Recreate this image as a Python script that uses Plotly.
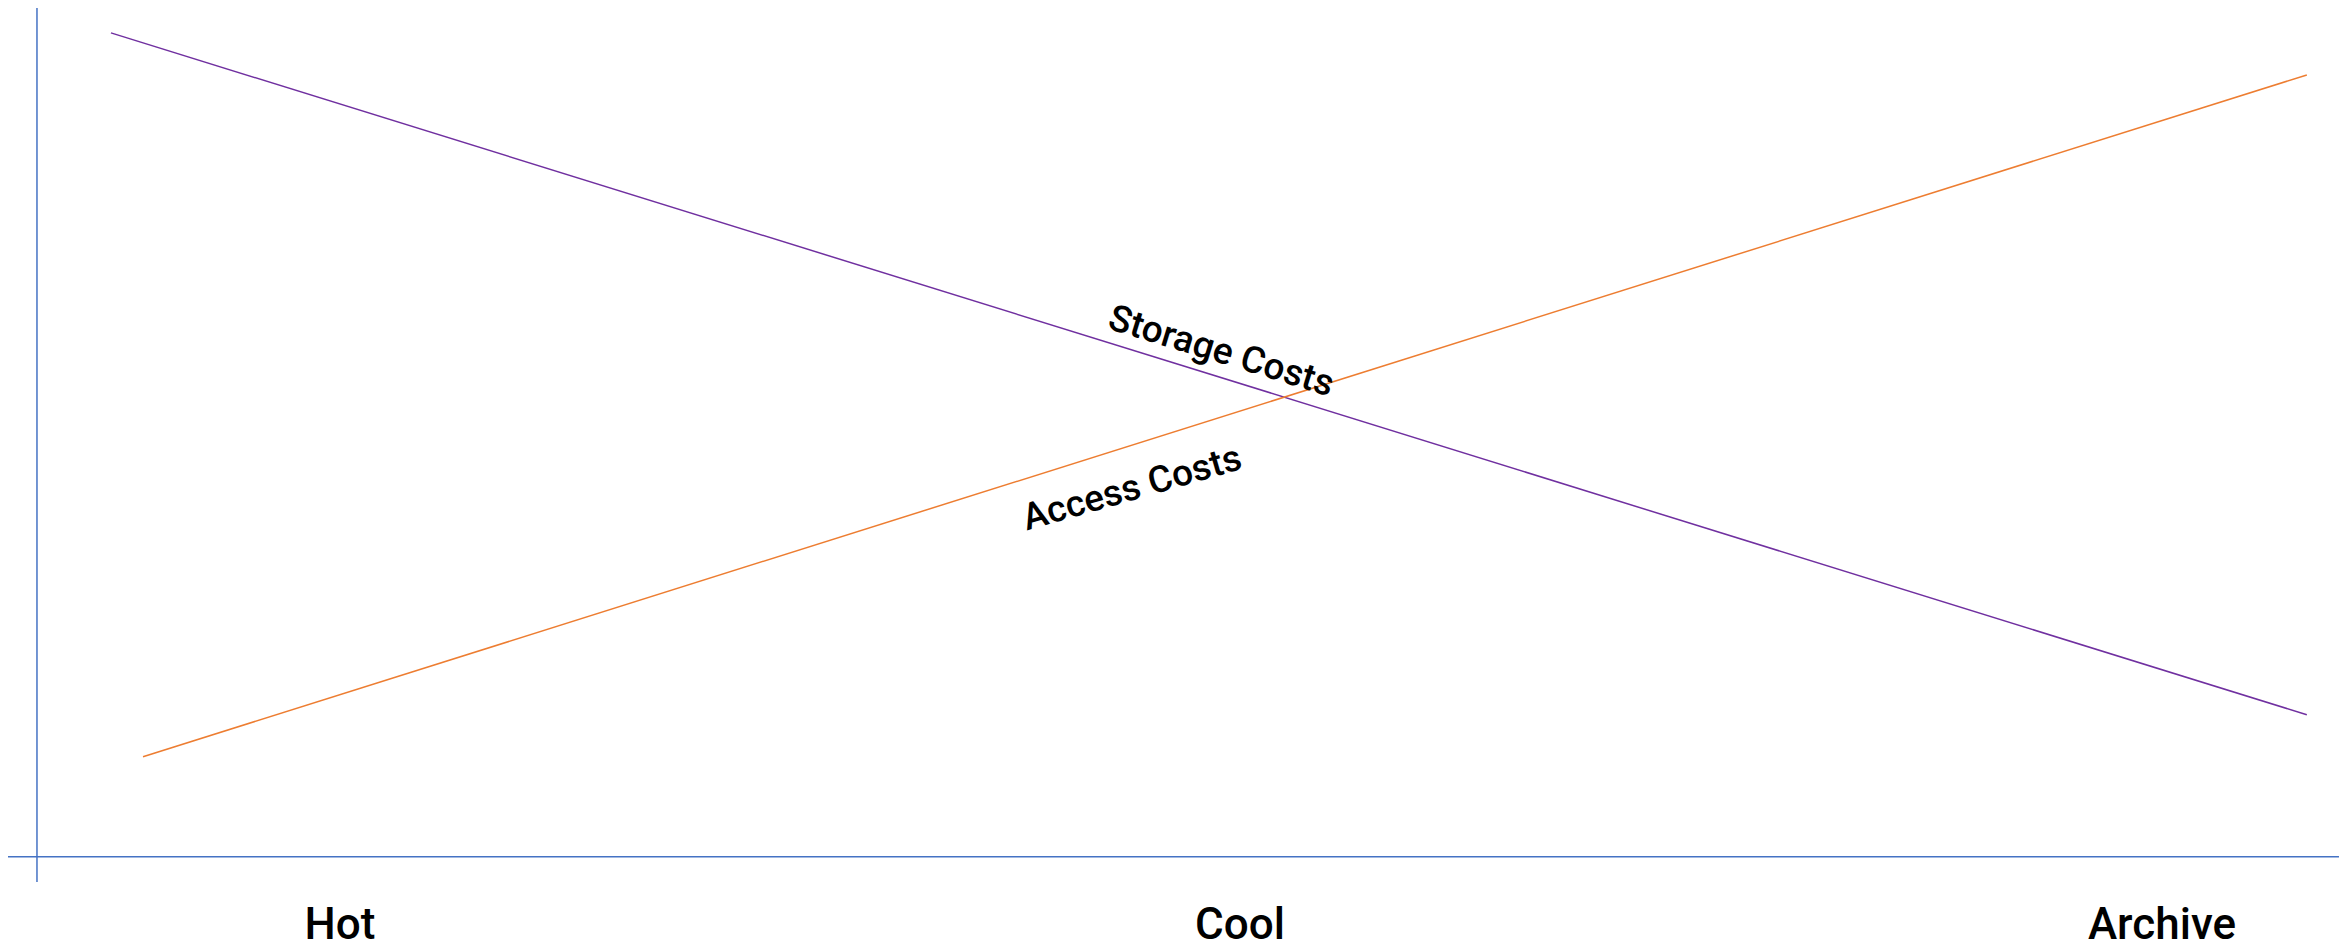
import plotly.graph_objects as go

# Data
tiers = ["Hot", "Cool", "Archive"]
tier_pos = [0.0, 0.988, 2.0]

storage_x = [-0.2514, 2.159]
storage_y = [1.0, 0.1725]
access_x = [-0.2162, 2.159]
access_y = [0.1215, 0.949]

PURPLE = "#7030A0"
ORANGE = "#ED7D31"
AXIS = "#4472C4"
FONT = "Roboto"

fig = go.Figure()
fig.add_trace(go.Scatter(x=storage_x, y=storage_y, mode="lines",
                         line=dict(color=PURPLE, width=1.5), name="Storage Costs",
                         hoverinfo="skip"))
fig.add_trace(go.Scatter(x=access_x, y=access_y, mode="lines",
                         line=dict(color=ORANGE, width=1.5), name="Access Costs",
                         hoverinfo="skip"))

# axis lines (cross-style)
fig.add_shape(type="line", x0=-0.3326, x1=-0.3326, y0=-0.0377, y1=1.04,
              line=dict(color=AXIS, width=1.5), layer="below")
fig.add_shape(type="line", x0=-0.37, x1=2.1943, y0=0, y1=0,
              line=dict(color=AXIS, width=1.5), layer="below")

fig.add_annotation(x=0.968, y=0.615, text="Storage Costs", showarrow=False,
                   textangle=17, font=dict(family=FONT, size=37, color="black", weight=500))
fig.add_annotation(x=0.869, y=0.448, text="Access Costs", showarrow=False,
                   textangle=-16, font=dict(family=FONT, size=37, color="black", weight=500))

fig.update_layout(
    width=2343, height=942,
    margin=dict(l=0, r=0, t=0, b=60),
    paper_bgcolor="white", plot_bgcolor="white",
    showlegend=False,
    xaxis=dict(range=[-0.3644, 2.2075], tickvals=tier_pos, ticktext=tiers,
               showgrid=False, zeroline=False, showline=False, ticks="",
               tickfont=dict(family=FONT, size=44, color="black", weight=500),
               ticklabelstandoff=12, fixedrange=True),
    yaxis=dict(range=[-0.0305, 1.0302], showgrid=False, zeroline=False,
               showline=False, showticklabels=False, ticks="", fixedrange=True),
)

fig.write_html("out.html")
